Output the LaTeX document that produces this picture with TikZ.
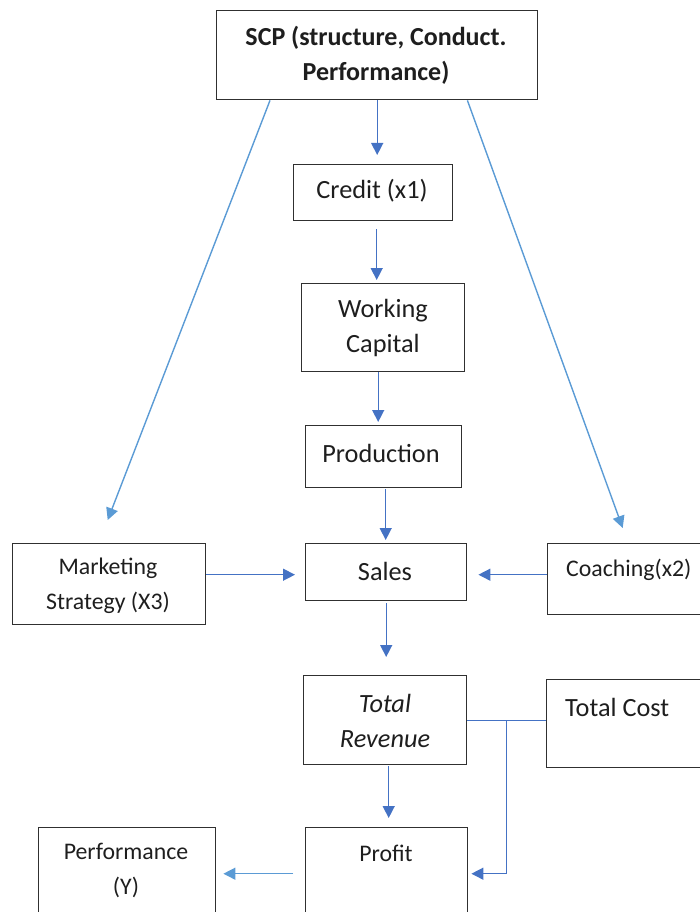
\documentclass[tikz,border=0pt]{standalone}
\usepackage{fontspec}
\setmainfont{Carlito}
\usetikzlibrary{arrows.meta,calc}
\definecolor{darkb}{HTML}{4472C4}
\definecolor{lightb}{HTML}{5B9BD5}
\definecolor{boxc}{HTML}{303030}
\definecolor{textc}{HTML}{1E1E1E}
\begin{document}
\begin{tikzpicture}[x=1pt,y=-1pt,
  box/.style={draw=boxc, line width=1.4pt, rectangle, inner sep=0pt, anchor=north west},
  txt/.style={font=\fontsize{26.3}{35}\selectfont, align=center, text=textc, inner sep=0pt},
  stxt/.style={txt, font=\fontsize{23.8}{35}\selectfont},
  arr/.style={draw=darkb, line width=1.4pt, -{Triangle[length=12pt,width=12pt]}},
  larr/.style={arr, draw=lightb, fill=lightb},
  ln/.style={draw=darkb, line width=1.4pt}]
\useasboundingbox (0,0) rectangle (700,912);
\clip (0,0) rectangle (700,912);
% boxes
\node[box, minimum width=321pt, minimum height=89pt] (scp) at (216,10) {};
\node[box, minimum width=159pt, minimum height=56pt] (credit) at (293,164) {};
\node[box, minimum width=163pt, minimum height=88pt] (wc) at (301,283) {};
\node[box, minimum width=156pt, minimum height=62pt] (prod) at (305,425) {};
\node[box, minimum width=161pt, minimum height=57pt] (sales) at (305,543) {};
\node[box, minimum width=193pt, minimum height=81pt] (mkt) at (12,543) {};
\node[box, minimum width=170pt, minimum height=71pt] (coach) at (547,543) {};
\node[box, minimum width=163pt, minimum height=89pt] (tr) at (303,675) {};
\node[box, minimum width=170pt, minimum height=88pt] (tc) at (546,679) {};
\node[box, minimum width=162pt, minimum height=100pt] (profit) at (305,827) {};
\node[box, minimum width=177pt, minimum height=100pt] (perf) at (38,827) {};
% texts
\node[txt, font=\fontsize{26}{35}\selectfont\bfseries] (scpt) at (376,55) {SCP (structure, Conduct.\\Performance)};
\node[txt] (creditt) at (372,191) {Credit (x1)};
\node[txt] (wct) at (383,328) {Working\\Capital};
\node[txt] (prodt) at (381,453) {Production};
\node[txt] (salest) at (385,571) {Sales};
\node[stxt] (mktt) at (108,586) {Marketing\\Strategy (X3)};
\node[stxt, anchor=west] (coacht) at (566,570) {Coaching(x2)};
\node[txt, font=\fontsize{26.3}{35}\selectfont\itshape] (trt) at (385,721) {Total\\Revenue};
\node[txt, anchor=west] (tct) at (565,707) {Total Cost};
\node[stxt] (profitt) at (386,853) {Profit};
\node[stxt] (perft) at (126,870) {Performance\\(Y)};
% connectors
\draw[arr, shorten >=9pt] (scp.south) -- ([xshift=4pt]credit.north);
\draw[arr, shorten <=8pt, shorten >=3pt] ([xshift=3.5pt]credit.south) -- ([xshift=-6.5pt]wc.north);
\draw[arr, shorten >=3pt] ([xshift=-5pt]wc.south) -- ([xshift=-5.5pt]prod.north);
\draw[arr, shorten <=1pt, shorten >=3pt] ([xshift=2pt]prod.south) -- ([xshift=-0.5pt]sales.north);
\draw[arr, shorten <=2pt, shorten >=18pt] (sales.south) -- (sales.south |- tr.north);
\draw[arr, shorten <=1pt, shorten >=9pt] ([xshift=3.5pt]tr.south) -- ([xshift=2pt]profit.north);
\draw[arr, shorten >=10pt] ([yshift=9.5pt]mkt.east) -- ([yshift=-2.5pt]sales.west);
\draw[arr, shorten >=11pt] ([yshift=4.5pt]coach.west) -- ([yshift=-2.5pt]sales.east);
\draw[larr] ([xshift=54pt]scp.south west) -- ([shift={(-1.5pt,23pt)}]mkt.north);
\draw[larr] ([xshift=-71pt]scp.south east) -- ([shift={(-10pt,15pt)}]coach.north);
\draw[ln] (tr.east) -- (tr.east -| tc.west);
\coordinate (j) at ($(tr.east)!0.5!(tr.east -| tc.west)$);
\draw[arr, shorten >=3pt] (j) |- ([yshift=4pt]profit.east);
\draw[larr, shorten <=12pt, shorten >=7pt] ([yshift=4pt]profit.west) -- ([yshift=4pt]perf.east);
\end{tikzpicture}
\end{document}
